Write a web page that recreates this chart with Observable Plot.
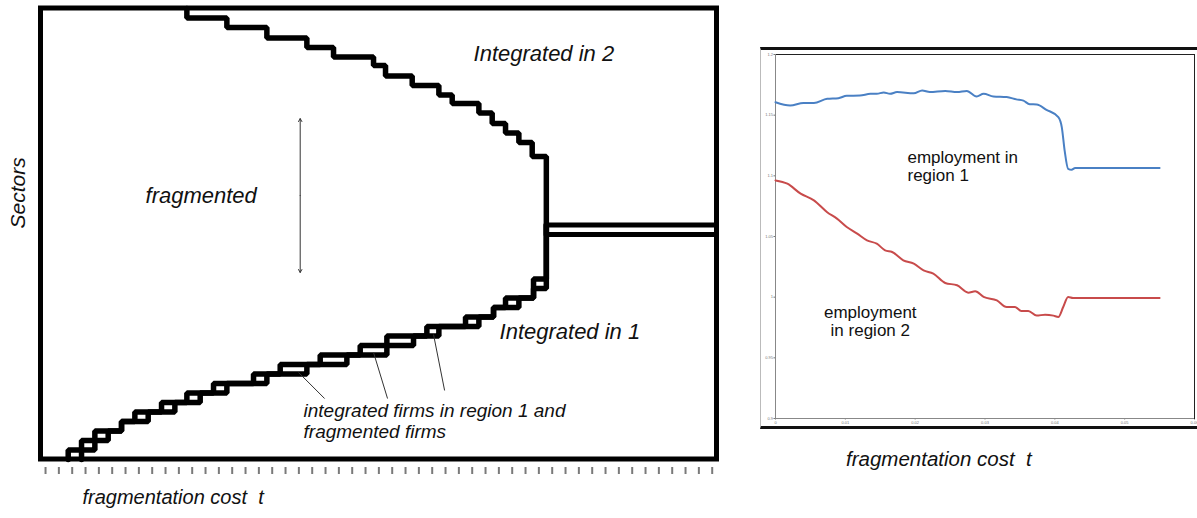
<!DOCTYPE html>
<html>
<head>
<meta charset="utf-8">
<script src="https://cdn.jsdelivr.net/npm/d3@7"></script>
<script src="https://cdn.jsdelivr.net/npm/@observablehq/plot@0.6"></script>
<style>
  html, body { margin: 0; padding: 0; background: #fff; }
  #page { position: relative; width: 1197px; height: 518px; overflow: hidden; font-family: "Liberation Sans", Arial, Helvetica, sans-serif; }
  #left { position: absolute; left: 0; top: 0; }
  #right { position: absolute; left: 760px; top: 47px; width: 436px; height: 376px;
           border-top: 3px solid #111; border-bottom: 3px solid #111; border-left: 1px solid #bbb; }
  #rightCaption { position: absolute; left: 846px; top: 448px; font-style: italic; font-size: 20.5px; line-height: 22px; color: #111; white-space: pre; }
  svg { overflow: visible; }
</style>
</head>
<body>
<div id="page">
  <div id="left"></div>
  <div id="right"></div>
  <div id="rightCaption"></div>
</div>
<script>
// ---------------- LEFT PANEL: conceptual diagram ----------------
// x: fragmentation cost t (tick units), y: sectors (step units)
const tDomain = [-0.34, 50.36];
const sectorDomain = [0, 47.5];
const tTicks = d3.range(0, 51);

// upper staircase (boundary fragmented / integrated in 2): riser position and level before each riser
const topRiser = [10.6, 13.6, 16.6, 19.6, 21.6, 24.6, 25.5, 27.5, 29.5, 30.5, 32.5, 33.5, 34.5, 35.5, 36.5, 37.56, 37.56];
const topLevel = [47.5, 46.5, 45.5, 44.4, 43.4, 42.4, 41.5, 40.4, 39.4, 38.4, 37.5, 36.5, 35.4, 34.4, 33.4, 31.9, 23.7];

// lower staircase (boundary fragmented / integrated in 1) drawn as two staircases (left & right risers)
const lowLevel  = [0, 1, 2, 3, 4, 5, 6, 7, 8, 9, 10, 11, 12, 13, 14, 15, 16, 17, 18, 19, 24.7];
const lowRiserL = [1.7, 2.7, 3.7, 5.7, 6.7, 8.7, 10.6, 12.6, 15.6, 17.6, 20.6, 23.6, 25.6, 28.6, 31.5, 33.6, 34.5, 36.6, 36.6, 37.56, 37.56];
const lowRiserR = [2.7, 3.7, 4.7, 5.7, 7.7, 9.7, 11.6, 13.6, 16.6, 19.6, 22.6, 25.6, 27.6, 29.5, 32.5, 33.6, 35.5, 36.6, 37.56, 37.56, 37.56];

// double line: integrated in both (beyond threshold)
const doubleLevels = [23.7, 24.7];
const doubleStart = 37.56;

// vertical arrow in fragmented region
const arrowT = 19.1;
const arrowMid = 27.8;
const arrowEnds = [35.9, 19.7];

// leader lines from the note to the boxes
const leaderT1 = [18.98, 24.6, 29.1];
const leaderS1 = [9.16, 11.27, 13.16];
const leaderT2 = [20.93, 25.65, 29.93];
const leaderS2 = [6.42, 6.42, 7.27];

// labels
const leftLabels = [
  {t: 32.1, s: 42.76, text: "Integrated in 2", size: 22},
  {t: 7.5, s: 27.8, text: "fragmented", size: 22},
  {t: 34.05, s: 13.48, text: "Integrated in 1", size: 22},
  {t: 19.35, s: 4.05, text: "integrated firms in region 1 and\nfragmented firms", size: 19}
];
const yTitle = "Sectors";
const xTitle = "fragmentation cost\u00a0 t";

const topRows = topRiser.map((t, i) => ({t, s: topLevel[i]}));
const lowRowsL = lowRiserL.map((t, i) => ({t, s: lowLevel[i]}));
const lowRowsR = lowRiserR.map((t, i) => ({t, s: lowLevel[i]}));
const frameRow = [{t0: tDomain[0], t1: tDomain[1], s0: sectorDomain[0], s1: sectorDomain[1]}];
const arrowRows = arrowEnds.map(e => ({x: arrowT, y1: arrowMid, y2: e}));
const leaderRows = leaderT1.map((t, i) => ({x1: t, y1: leaderS1[i], x2: leaderT2[i], y2: leaderS2[i]}));

const FONT = '"Liberation Sans", Arial, Helvetica, sans-serif';
const STAIR = 5.5;

const leftPlot = Plot.plot({
  width: 730, height: 518,
  marginLeft: 40.5, marginRight: 13.5, marginTop: 8, marginBottom: 51,
  x: {domain: tDomain, axis: null},
  y: {domain: sectorDomain, insetBottom: 8, axis: null},
  style: {background: "white", fontFamily: FONT},
  marks: [
    Plot.axisX({ticks: tTicks, tickSize: 7, tickPadding: 0, tickFormat: () => "", label: null, stroke: "#7a7a7a", strokeWidth: 2}),
    Plot.rect(frameRow, {x1: "t0", x2: "t1", y1: "s0", y2: "s1", fill: "none", stroke: "black", strokeWidth: 5}),
    Plot.line(topRows, {x: "t", y: "s", curve: "step-before", stroke: "black", strokeWidth: STAIR, strokeLinejoin: "miter"}),
    Plot.line(lowRowsL, {x: "t", y: "s", curve: "step-before", stroke: "black", strokeWidth: STAIR, strokeLinejoin: "miter"}),
    Plot.line(lowRowsR, {x: "t", y: "s", curve: "step-before", stroke: "black", strokeWidth: STAIR, strokeLinejoin: "miter"}),
    Plot.ruleY(doubleLevels, {x1: doubleStart, x2: tDomain[1], stroke: "black", strokeWidth: 5}),
    Plot.arrow(arrowRows, {x1: "x", x2: "x", y1: "y1", y2: "y2", stroke: "#333", strokeWidth: 1, headLength: 5}),
    Plot.link(leaderRows, {x1: "x1", y1: "y1", x2: "x2", y2: "y2", stroke: "#333", strokeWidth: 1}),
    Plot.text(leftLabels, {x: "t", y: "s", text: "text", fontSize: "size", textAnchor: "start", fontStyle: "italic", fill: "#111", lineHeight: 1.1}),
    Plot.text([yTitle], {frameAnchor: "left", dx: -22.5, dy: -9.5, rotate: -90, fontSize: 21, fontStyle: "italic", fill: "#111"}),
    Plot.text([xTitle], {frameAnchor: "bottom-left", dx: 41.5, dy: 36, textAnchor: "start", fontSize: 20, fontStyle: "italic", fill: "#111"})
  ]
});
document.getElementById("left").append(leftPlot);

// ---------------- RIGHT PANEL: employment by region ----------------
const costTicks = [0, 0.01, 0.02, 0.03, 0.04, 0.05, 0.06];
const costTickLabels = ["0", "0.01", "0.02", "0.03", "0.04", "0.05", "0.06"];
const empTicks = [0.9, 0.95, 1, 1.05, 1.1, 1.15, 1.2];
const empTickLabels = ["0.9", "0.95", "1", "1.05", "1.1", "1.15", "1.2"];

const costRegion1 = [0, 0.0021, 0.0040, 0.0055, 0.0074, 0.0090, 0.0102, 0.0121, 0.0136, 0.0145, 0.0155, 0.0164, 0.0174, 0.0198, 0.0210, 0.0221, 0.0243, 0.0260, 0.0274, 0.0288, 0.0298, 0.0312, 0.0331, 0.0345, 0.0355, 0.0364, 0.0374, 0.0388, 0.0405, 0.0410, 0.0414, 0.0419, 0.0424, 0.0429, 0.0550];
const empRegion1  = [1.1607, 1.1580, 1.1600, 1.1600, 1.1635, 1.1640, 1.1660, 1.1662, 1.1676, 1.1676, 1.1687, 1.1676, 1.1690, 1.1680, 1.1703, 1.1690, 1.1700, 1.1690, 1.1700, 1.1654, 1.1676, 1.1654, 1.1649, 1.1630, 1.1620, 1.1590, 1.1588, 1.1544, 1.1484, 1.1400, 1.1210, 1.1058, 1.1050, 1.1064, 1.1064];

const costRegion2 = [0, 0.0017, 0.0036, 0.0055, 0.0074, 0.0088, 0.0102, 0.0117, 0.0131, 0.0145, 0.0157, 0.0167, 0.0183, 0.0198, 0.0212, 0.0226, 0.0243, 0.0260, 0.0276, 0.0286, 0.0298, 0.0317, 0.0331, 0.0343, 0.0352, 0.0362, 0.0374, 0.0386, 0.0398, 0.0405, 0.0412, 0.0419, 0.0426, 0.0550];
const empRegion2  = [1.0962, 1.0935, 1.0853, 1.0798, 1.0700, 1.0647, 1.0578, 1.0523, 1.0468, 1.0441, 1.0386, 1.0372, 1.0304, 1.0276, 1.0221, 1.0194, 1.0117, 1.0098, 1.0037, 1.0048, 1.0002, 0.9974, 0.9919, 0.9919, 0.9886, 0.9886, 0.9848, 0.9856, 0.9848, 0.9837, 0.9919, 1.0002, 0.9993, 0.9993];

const label1 = [{x: 0.0189, y: 1.1078, text: "employment in\nregion 1"}];
const label2 = [{x: 0.01357, y: 0.980, text: "employment\nin region 2"}];

const r1 = costRegion1.map((x, i) => ({x, y: empRegion1[i]}));
const r2 = costRegion2.map((x, i) => ({x, y: empRegion2[i]}));
const costFmt = new Map(costTicks.map((d, i) => [d, costTickLabels[i]]));
const empFmt = new Map(empTicks.map((d, i) => [d, empTickLabels[i]]));

const rightPlot = Plot.plot({
  width: 436, height: 376,
  marginLeft: 14, marginRight: 3, marginTop: 4, marginBottom: 8,
  x: {domain: [0, 0.06], ticks: costTicks, tickFormat: d => costFmt.get(d) ?? String(d), tickSize: 1.5, tickPadding: 1, label: null},
  y: {domain: [0.9, 1.2], ticks: empTicks, tickFormat: d => empFmt.get(d) ?? String(d), tickSize: 1.5, tickPadding: 1, label: null},
  style: {background: "white", color: "#777", fontSize: "4px", fontFamily: FONT},
  marks: [
    Plot.frame({stroke: "#222", strokeWidth: 1}),
    Plot.ruleX([0], {stroke: "#888", strokeWidth: 1}),
    Plot.ruleY([0.9], {stroke: "#888", strokeWidth: 1}),
    Plot.line(r1, {x: "x", y: "y", stroke: "#4a80c4", strokeWidth: 2, curve: "monotone-x"}),
    Plot.line(r2, {x: "x", y: "y", stroke: "#c84b4b", strokeWidth: 2, curve: "monotone-x"}),
    Plot.text(label1, {x: "x", y: "y", text: "text", textAnchor: "start", fontSize: 17, lineHeight: 1.08, fill: "#111"}),
    Plot.text(label2, {x: "x", y: "y", text: "text", textAnchor: "middle", fontSize: 17, lineHeight: 1.08, fill: "#111"})
  ]
});
document.getElementById("right").append(rightPlot);
document.getElementById("rightCaption").textContent = "fragmentation cost  t";
</script>
</body>
</html>
